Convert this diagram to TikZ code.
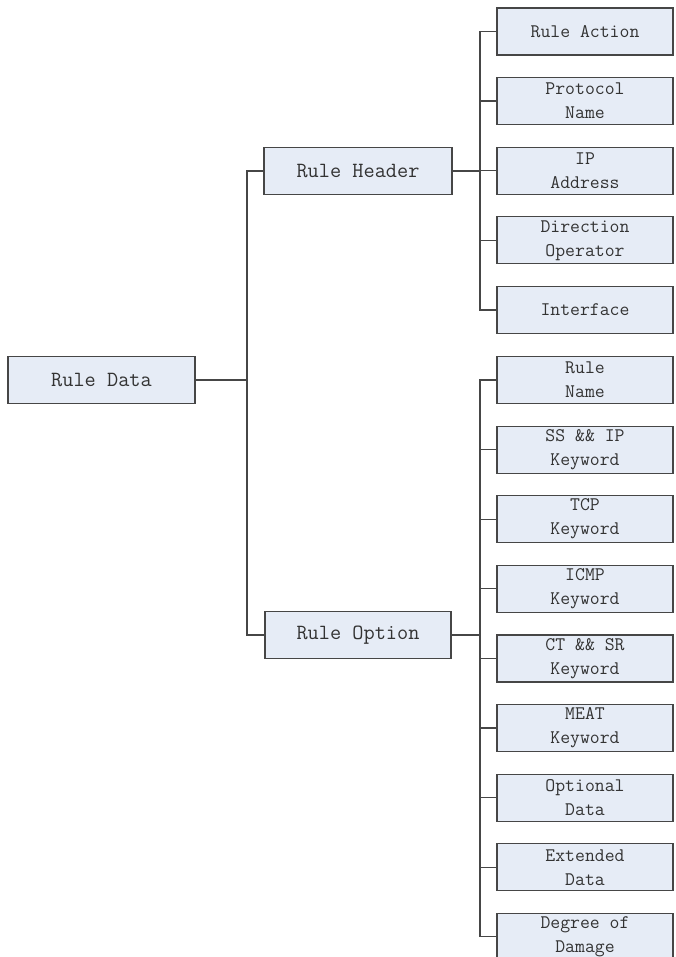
\documentclass[tikz,border=0pt]{standalone}
\usetikzlibrary{positioning}
\definecolor{boxfill}{RGB}{230,236,246}
\definecolor{boxline}{RGB}{70,70,70}
\begin{document}
\begin{tikzpicture}[x=1pt, y=-1pt,
        box/.style={draw=boxline, fill=boxfill, line width=1.2pt, minimum height=47pt, inner sep=0pt,
            align=center, text=black!80, font=\ttfamily\fontsize{21.7}{26}\selectfont},
        leaf/.style={box, minimum width=176pt, font=\ttfamily\fontsize{19.2}{24}\selectfont},
        wire/.style={draw=boxline, line width=1.2pt}]
    \useasboundingbox (0, 0) rectangle (676, 957);
    % root and its two branches
    \node[box, minimum width=187pt] (data) at (101.5, 380) {Rule Data};
    \node[box, minimum width=188pt] (header) at (358, 171) {Rule Header};
    \node[box, minimum width=186pt] (option) at (358, 635) {Rule Option};
    % leaves
    \foreach \txt [count=\i] in {Rule Action, Protocol\\Name, IP\\Address, Direction\\Operator, Interface}
        \node[leaf] (h\i) at (585, {31.5 + 69.6*(\i-1)}) {\txt};
    \foreach \txt [count=\i] in {Rule\\Name, SS \&\& IP\\Keyword, TCP\\Keyword, ICMP\\Keyword,
            CT \&\& SR\\Keyword, MEAT\\Keyword, Optional\\Data, Extended\\Data, Degree of\\Damage}
        \node[leaf] (o\i) at (585, {380 + 69.6*(\i-1)}) {\txt};
    % connectors
    \coordinate (trunk) at (247, 380);
    \coordinate (hbus) at (480, 171);
    \coordinate (obus) at (480, 635);
    \draw[wire] (data.east) -- (trunk);
    \draw[wire] (header.west) -| (trunk) |- (option.west);
    \draw[wire] (header.east) -- (hbus);
    \draw[wire] (option.east) -- (obus);
    \foreach \i in {1,...,5}
        \draw[wire] (hbus) |- (h\i.west);
    \foreach \i in {1,...,9}
        \draw[wire] (obus) |- (o\i.west);
\end{tikzpicture}
\end{document}
